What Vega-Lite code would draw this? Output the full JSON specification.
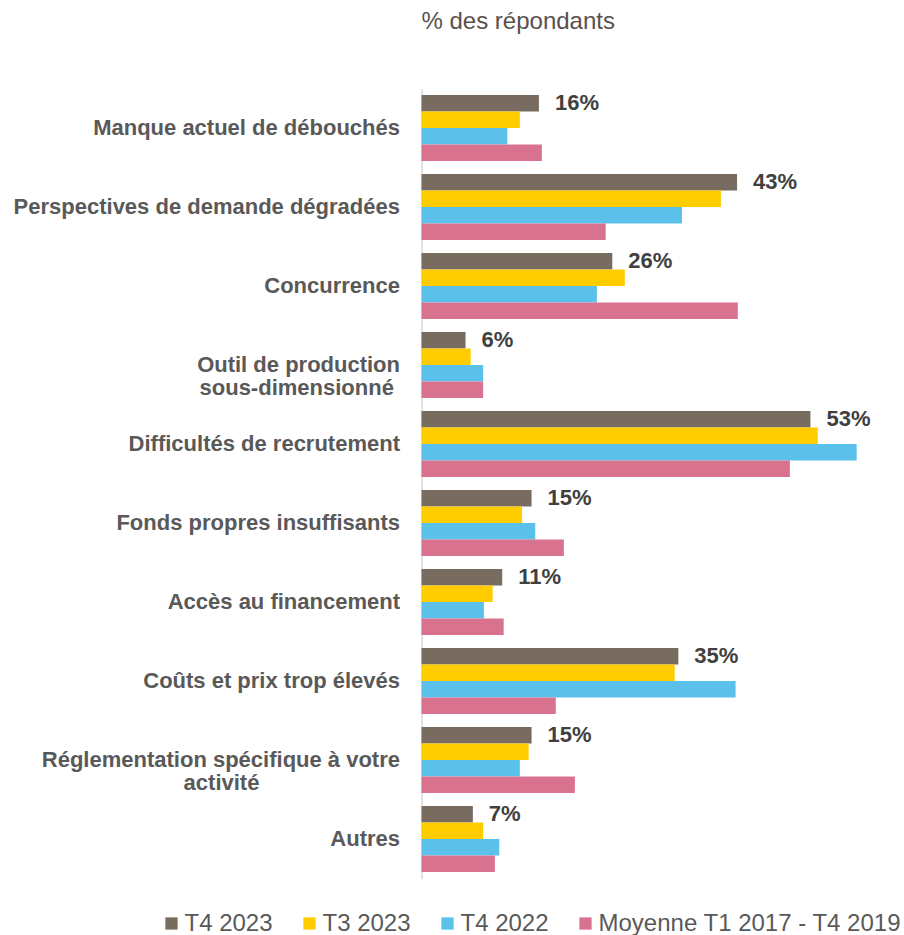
{
  "$schema": "https://vega.github.io/schema/vega-lite/v6.json",
  "autosize": "none",
  "padding": {"left": 421.5, "top": 88.5, "right": 5.5, "bottom": 56.5},
  "width": 477,
  "height": 790,
  "background": "white",
  "title": {
    "text": "% des répondants",
    "anchor": "start",
    "frame": "group",
    "offset": 55,
    "font": "Liberation Sans",
    "fontSize": 24,
    "fontWeight": "normal",
    "color": "#5a504b"
  },
  "config": {
    "view": {"stroke": null},
    "font": "Liberation Sans"
  },
  "data": {
    "values": [
      {"cat": "Manque actuel de débouchés", "serie": "T4 2023", "v": 0.16},
      {"cat": "Manque actuel de débouchés", "serie": "T3 2023", "v": 0.134},
      {"cat": "Manque actuel de débouchés", "serie": "T4 2022", "v": 0.117},
      {"cat": "Manque actuel de débouchés", "serie": "Moyenne T1 2017 - T4 2019", "v": 0.164},
      {"cat": "Perspectives de demande dégradées", "serie": "T4 2023", "v": 0.43},
      {"cat": "Perspectives de demande dégradées", "serie": "T3 2023", "v": 0.408},
      {"cat": "Perspectives de demande dégradées", "serie": "T4 2022", "v": 0.355},
      {"cat": "Perspectives de demande dégradées", "serie": "Moyenne T1 2017 - T4 2019", "v": 0.251},
      {"cat": "Concurrence", "serie": "T4 2023", "v": 0.26},
      {"cat": "Concurrence", "serie": "T3 2023", "v": 0.277},
      {"cat": "Concurrence", "serie": "T4 2022", "v": 0.239},
      {"cat": "Concurrence", "serie": "Moyenne T1 2017 - T4 2019", "v": 0.431},
      {"cat": "Outil de production|sous-dimensionné\u00a0\u200b", "serie": "T4 2023", "v": 0.06},
      {"cat": "Outil de production|sous-dimensionné\u00a0\u200b", "serie": "T3 2023", "v": 0.067},
      {"cat": "Outil de production|sous-dimensionné\u00a0\u200b", "serie": "T4 2022", "v": 0.084},
      {"cat": "Outil de production|sous-dimensionné\u00a0\u200b", "serie": "Moyenne T1 2017 - T4 2019", "v": 0.084},
      {"cat": "Difficultés de recrutement", "serie": "T4 2023", "v": 0.53},
      {"cat": "Difficultés de recrutement", "serie": "T3 2023", "v": 0.54},
      {"cat": "Difficultés de recrutement", "serie": "T4 2022", "v": 0.593},
      {"cat": "Difficultés de recrutement", "serie": "Moyenne T1 2017 - T4 2019", "v": 0.502},
      {"cat": "Fonds propres insuffisants", "serie": "T4 2023", "v": 0.15},
      {"cat": "Fonds propres insuffisants", "serie": "T3 2023", "v": 0.137},
      {"cat": "Fonds propres insuffisants", "serie": "T4 2022", "v": 0.155},
      {"cat": "Fonds propres insuffisants", "serie": "Moyenne T1 2017 - T4 2019", "v": 0.194},
      {"cat": "Accès au financement", "serie": "T4 2023", "v": 0.11},
      {"cat": "Accès au financement", "serie": "T3 2023", "v": 0.097},
      {"cat": "Accès au financement", "serie": "T4 2022", "v": 0.085},
      {"cat": "Accès au financement", "serie": "Moyenne T1 2017 - T4 2019", "v": 0.112},
      {"cat": "Coûts et prix trop élevés", "serie": "T4 2023", "v": 0.35},
      {"cat": "Coûts et prix trop élevés", "serie": "T3 2023", "v": 0.345},
      {"cat": "Coûts et prix trop élevés", "serie": "T4 2022", "v": 0.428},
      {"cat": "Coûts et prix trop élevés", "serie": "Moyenne T1 2017 - T4 2019", "v": 0.183},
      {"cat": "Réglementation spécifique à votre|activité\u00a0\u00a0\u00a0\u00a0\u00a0\u00a0\u00a0\u00a0\u00a0\u00a0\u00a0\u00a0\u00a0\u00a0\u00a0\u00a0\u00a0\u00a0\u00a0\u00a0\u00a0\u00a0\u00a0\u200b", "serie": "T4 2023", "v": 0.15},
      {"cat": "Réglementation spécifique à votre|activité\u00a0\u00a0\u00a0\u00a0\u00a0\u00a0\u00a0\u00a0\u00a0\u00a0\u00a0\u00a0\u00a0\u00a0\u00a0\u00a0\u00a0\u00a0\u00a0\u00a0\u00a0\u00a0\u00a0\u200b", "serie": "T3 2023", "v": 0.146},
      {"cat": "Réglementation spécifique à votre|activité\u00a0\u00a0\u00a0\u00a0\u00a0\u00a0\u00a0\u00a0\u00a0\u00a0\u00a0\u00a0\u00a0\u00a0\u00a0\u00a0\u00a0\u00a0\u00a0\u00a0\u00a0\u00a0\u00a0\u200b", "serie": "T4 2022", "v": 0.134},
      {"cat": "Réglementation spécifique à votre|activité\u00a0\u00a0\u00a0\u00a0\u00a0\u00a0\u00a0\u00a0\u00a0\u00a0\u00a0\u00a0\u00a0\u00a0\u00a0\u00a0\u00a0\u00a0\u00a0\u00a0\u00a0\u00a0\u00a0\u200b", "serie": "Moyenne T1 2017 - T4 2019", "v": 0.209},
      {"cat": "Autres", "serie": "T4 2023", "v": 0.07},
      {"cat": "Autres", "serie": "T3 2023", "v": 0.084},
      {"cat": "Autres", "serie": "T4 2022", "v": 0.106},
      {"cat": "Autres", "serie": "Moyenne T1 2017 - T4 2019", "v": 0.10}
    ]
  },
  "encoding": {
    "y": {
      "field": "cat",
      "type": "nominal",
      "sort": null,
      "scale": {"paddingInner": 0.165, "paddingOuter": 0.0825},
      "axis": {
        "title": null,
        "ticks": false,
        "domain": true,
        "domainColor": "#d9d9d9",
        "domainWidth": 1.5,
        "labelExpr": "split(datum.value, '|')",
        "labelFont": "Liberation Sans",
        "labelFontSize": 22,
        "labelFontWeight": "bold",
        "labelColor": "#595959",
        "labelPadding": 22,
        "labelLineHeight": 23,
        "labelLimit": 500
      }
    },
    "yOffset": {
      "field": "serie",
      "type": "nominal",
      "sort": ["T4 2023", "T3 2023", "T4 2022", "Moyenne T1 2017 - T4 2019"],
      "scale": {"paddingInner": 0, "paddingOuter": 0}
    },
    "x": {
      "field": "v",
      "type": "quantitative",
      "scale": {"domain": [0, 0.65]},
      "axis": null
    }
  },
  "layer": [
    {
      "mark": {"type": "bar"},
      "encoding": {
        "color": {
          "field": "serie",
          "type": "nominal",
          "sort": ["T4 2023", "T3 2023", "T4 2022", "Moyenne T1 2017 - T4 2019"],
          "scale": {
            "domain": ["T4 2023", "T3 2023", "T4 2022", "Moyenne T1 2017 - T4 2019"],
            "range": ["#786c61", "#ffcc00", "#5cc1ea", "#d9728f"]
          },
          "legend": {
            "orient": "none",
            "legendX": -262,
            "legendY": 823,
            "direction": "horizontal",
            "title": null,
            "symbolType": "square",
            "symbolSize": 150,
            "symbolStrokeWidth": 0,
            "labelFont": "Liberation Sans",
            "labelFontSize": 24,
            "labelColor": "#595959",
            "labelOffset": 1,
            "columnPadding": 24,
            "labelLimit": 500
          }
        }
      }
    },
    {
      "transform": [{"filter": "datum.serie == 'T4 2023'"}],
      "mark": {
        "type": "text",
        "align": "left",
        "baseline": "middle",
        "dx": 16,
        "font": "Liberation Sans",
        "fontSize": 22,
        "fontWeight": "bold",
        "color": "#404040"
      },
      "encoding": {
        "text": {"field": "v", "type": "quantitative", "format": ".0%"}
      }
    }
  ]
}
